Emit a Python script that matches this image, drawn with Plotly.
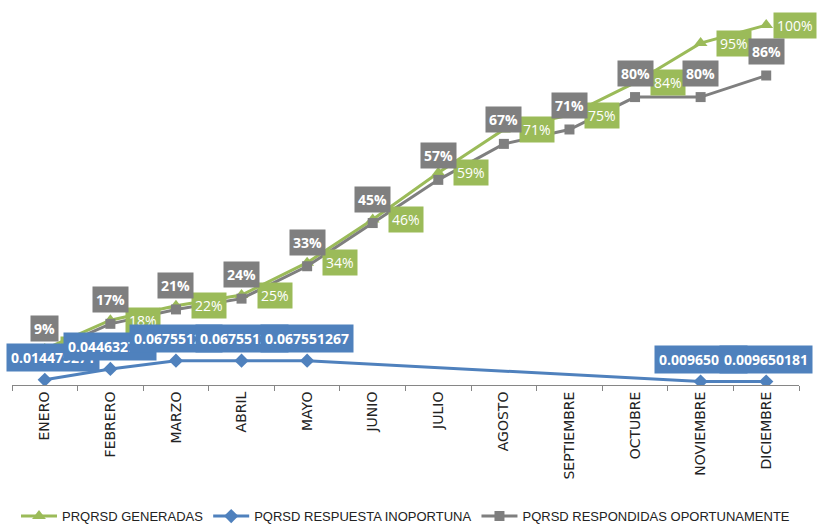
import plotly.graph_objects as go

meses = ['ENERO', 'FEBRERO', 'MARZO', 'ABRIL', 'MAYO', 'JUNIO', 'JULIO',
         'AGOSTO', 'SEPTIEMBRE', 'OCTUBRE', 'NOVIEMBRE', 'DICIEMBRE']
generadas = [0.10, 0.18, 0.22, 0.25, 0.34, 0.46, 0.59, 0.71, 0.75, 0.84, 0.95, 1.00]
inoportuna = [0.014475271, 0.044632708, 0.067551267, 0.067551267, 0.067551267,
              None, None, None, None, None, 0.009650181, 0.009650181]
oportunas = [0.09, 0.17, 0.21, 0.24, 0.33, 0.45, 0.57, 0.67, 0.71, 0.80, 0.80, 0.86]

VERDE = '#9BBB59'
AZUL = '#4F81BD'
GRIS = '#7F7F7F'
LABEL_FONT = 'Open Sans'

fig = go.Figure()
fig.add_trace(go.Scatter(x=meses, y=generadas, name='PRQRSD GENERADAS', mode='lines+markers',
                         line=dict(color=VERDE, width=3),
                         marker=dict(symbol='triangle-up', size=12, color=VERDE)))
fig.add_trace(go.Scatter(x=meses, y=inoportuna, name='PQRSD RESPUESTA INOPORTUNA', mode='lines+markers',
                         connectgaps=True, line=dict(color=AZUL, width=3),
                         marker=dict(symbol='diamond', size=11, color=AZUL)))
fig.add_trace(go.Scatter(x=meses, y=oportunas, name='PQRSD RESPONDIDAS OPORTUNAMENTE', mode='lines+markers',
                         line=dict(color=GRIS, width=3),
                         marker=dict(symbol='square', size=10, color=GRIS)))

annotations = []
# green labels to the right of the point
for i, (m, v) in enumerate(zip(meses, generadas)):
    annotations.append(dict(x=m, y=v, text=f'{v:.0%}', showarrow=False,
                            xanchor='left', xshift=7 if i == len(meses) - 1 else 15,
                            bgcolor=VERDE, borderpad=3,
                            font=dict(family=LABEL_FONT, size=14, color='white')))
# grey labels above the point
for m, v in zip(meses, oportunas):
    annotations.append(dict(x=m, y=v, text=f'<b>{v:.0%}</b>', showarrow=False,
                            yshift=24, bgcolor=GRIS, borderpad=3,
                            font=dict(family=LABEL_FONT, size=14, color='white')))
# blue labels above the point (drawn last, on top)
for i, (m, v) in enumerate(zip(meses, inoportuna)):
    if v is None:
        continue
    annotations.append(dict(x=m, y=v, text=f'<b>{v:.9f}</b>', showarrow=False,
                            yshift=22, xshift=8 if i == 0 else 0,
                            bgcolor=AZUL, borderpad=4,
                            font=dict(family=LABEL_FONT, size=14, color='white')))

fig.update_layout(
    width=817, height=525,
    margin=dict(l=12, r=18, t=10, b=140),
    plot_bgcolor='white', paper_bgcolor='white',
    annotations=annotations,
    showlegend=True,
    legend=dict(orientation='h', x=0.5, xanchor='center', y=0.017, yref='container',
                yanchor='middle', font=dict(family='Liberation Sans', size=13, color='#222'),
                itemwidth=36, traceorder='normal'),
    xaxis=dict(type='category', range=[-0.5, 11.5], tickangle=-90, tickson='boundaries',
               ticks='outside', ticklen=5, tickcolor='#868686', showline=True,
               linecolor='#868686', linewidth=1, showgrid=False,
               tickfont=dict(family='DejaVu Sans', size=14, color='#222')),
    yaxis=dict(range=[0, 1.042], visible=False, showgrid=False, zeroline=False),
)

fig.write_html('out.html', config={'displayModeBar': False},
               post_script="document.body.style.margin='0';")
